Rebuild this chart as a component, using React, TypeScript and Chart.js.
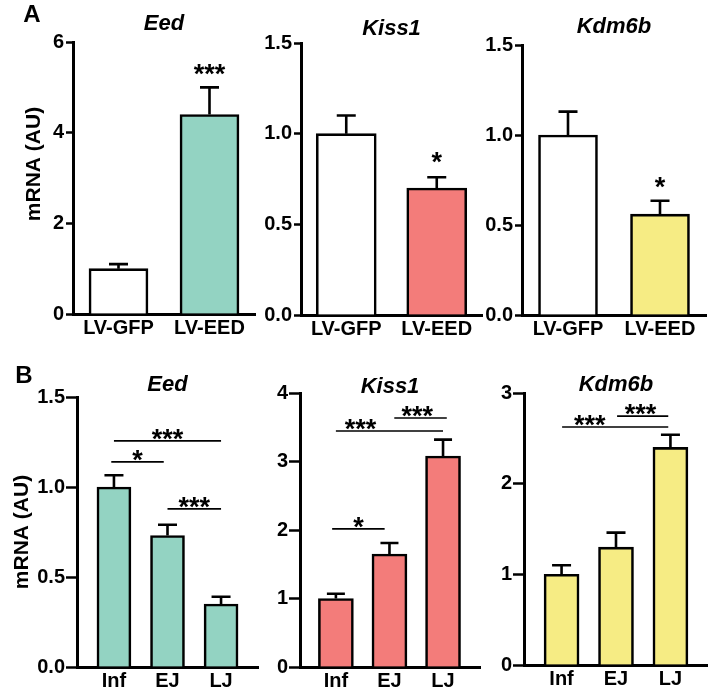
import React, { useEffect, useRef } from "react";
import { Chart, registerables } from "chart.js";

Chart.register(...registerables);

const FONT = "Arial, 'Liberation Sans', Helvetica, sans-serif";
const TEAL = "#93d3c2";
const SALMON = "#f37c7a";
const YELLOW = "#f6ec84";
const WHITE = "#ffffff";

// ---------------- Data ----------------
const groupsA = ["LV-GFP", "LV-EED"];
const groupsB = ["Inf", "EJ", "LJ"];

// Panel A (means and SEM)
const eedA = [1.0, 4.4];
const eedASem = [0.1, 0.6];
const kiss1A = [1.0, 0.7];
const kiss1ASem = [0.1, 0.06];
const kdm6bA = [1.0, 0.56];
const kdm6bASem = [0.13, 0.075];

// Panel B (means and SEM)
const eedB = [1.0, 0.73, 0.35];
const eedBSem = [0.065, 0.06, 0.04];
const kiss1B = [1.0, 1.65, 3.08];
const kiss1BSem = [0.07, 0.16, 0.24];
const kdm6bB = [1.0, 1.3, 2.4];
const kdm6bBSem = [0.1, 0.16, 0.14];

// Y tick values
const ticksEedA = [0, 2, 4, 6];
const ticksHalf = [0, 0.5, 1.0, 1.5];
const ticksKiss1B = [0, 1, 2, 3, 4];
const ticksKdm6bB = [0, 1, 2, 3];

// Significance stars above bars (bar index, value level, label)
const starsEedA = [{ at: 1, y: 5.45, text: "***" }];
const starsKiss1A = [{ at: 1, y: 0.88, text: "*" }];
const starsKdm6bA = [{ at: 1, y: 0.75, text: "*" }];

// Significance brackets (from / to in group positions, value level, label)
const bracketsEedB = [
  { from: 0, to: 2, y: 1.256, text: "***" },
  { from: -0.05, to: 0.93, y: 1.14, text: "*" },
  { from: 1, to: 2, y: 0.878, text: "***" },
];
const bracketsKiss1B = [
  { from: 1.09, to: 2.07, y: 3.635, text: "***", textAt: 1.52 },
  { from: 0, to: 2, y: 3.445, text: "***", textAt: 0.46 },
  { from: -0.07, to: 0.91, y: 2.015, text: "*" },
];
const bracketsKdm6bB = [
  { from: 1.02, to: 1.96, y: 2.746, text: "***", textAt: 1.45 },
  { from: 0.01, to: 1.96, y: 2.625, text: "***", textAt: 0.52 },
];

// ---------------- Layout ----------------
const W = 708;
const H = 696;
const STAR = 27;

type Panel = any;

const panels: Panel[] = [
  {
    key: "a1", title: "Eed", letter: "A", yLabel: true,
    labels: groupsA, values: eedA, sem: eedASem, colors: [WHITE, TEAL],
    ticks: ticksEedA, decimals: 0, stars: starsEedA, brackets: [],
    box: { left: 73, right: 255, top: 42, bottom: 314 }, xRange: [-0.5, 1.5],
    barWidth: 59, capWidth: 19, tickLen: 7, tickPad: 2, titleGap: 18.5,
    letterPos: { dx: -41, dy: -27 }, yLabelPos: { dx: -39, dy: -14 },
  },
  {
    key: "a2", title: "Kiss1", letter: null, yLabel: false,
    labels: groupsA, values: kiss1A, sem: kiss1ASem, colors: [WHITE, SALMON],
    ticks: ticksHalf, decimals: 1, stars: starsKiss1A, brackets: [],
    box: { left: 301, right: 482, top: 43, bottom: 315 }, xRange: [-0.5, 1.5],
    barWidth: 60, capWidth: 19, tickLen: 7, tickPad: 2, titleGap: 14.5,
  },
  {
    key: "a3", title: "Kdm6b", letter: null, yLabel: false,
    labels: groupsA, values: kdm6bA, sem: kdm6bASem, colors: [WHITE, YELLOW],
    ticks: ticksHalf, decimals: 1, stars: starsKdm6bA, brackets: [],
    box: { left: 522, right: 706, top: 45, bottom: 315 }, xRange: [-0.5, 1.5],
    barWidth: 59, capWidth: 19, tickLen: 7, tickPad: 2, titleGap: 18.5,
  },
  {
    key: "b1", title: "Eed", letter: "B", yLabel: true,
    labels: groupsB, values: eedB, sem: eedBSem, colors: [TEAL, TEAL, TEAL],
    ticks: ticksHalf, decimals: 1, stars: [], brackets: bracketsEedB,
    box: { left: 77, right: 258, top: 397, bottom: 667 }, xRange: [-0.69, 2.69],
    barWidth: 34, capWidth: 19, tickLen: 11, tickPad: 1, titleGap: 12,
    letterPos: { dx: -53, dy: -21 }, yLabelPos: { dx: -55, dy: 0 },
  },
  {
    key: "b2", title: "Kiss1", letter: null, yLabel: false,
    labels: groupsB, values: kiss1B, sem: kiss1BSem, colors: [SALMON, SALMON, SALMON],
    ticks: ticksKiss1B, decimals: 0, stars: [], brackets: bracketsKiss1B,
    box: { left: 300, right: 480, top: 393, bottom: 667 }, xRange: [-0.67, 2.69],
    barWidth: 35, capWidth: 18, tickLen: 11, tickPad: 1, titleGap: 6.5,
  },
  {
    key: "b3", title: "Kdm6b", letter: null, yLabel: false,
    labels: groupsB, values: kdm6bB, sem: kdm6bBSem, colors: [YELLOW, YELLOW, YELLOW],
    ticks: ticksKdm6bB, decimals: 0, stars: [], brackets: bracketsKdm6bB,
    box: { left: 524, right: 708, top: 393, bottom: 665 }, xRange: [-0.69, 2.69],
    barWidth: 35, capWidth: 19, tickLen: 11, tickPad: 1, titleGap: 8,
  },
];

function makeOverlay(p: Panel) {
  return {
    id: "overlay_" + p.key,
    afterDraw(chart: any) {
      const { ctx, chartArea: a, scales } = chart;
      const x = scales.x;
      const y = scales.y;
      ctx.save();
      ctx.strokeStyle = "#000";
      ctx.fillStyle = "#000";
      ctx.lineCap = "butt";

      // error bars (upper whisker)
      ctx.lineWidth = 2.6;
      p.values.forEach((v: number, i: number) => {
        const cx = x.getPixelForValue(i);
        const y0 = y.getPixelForValue(v);
        const y1 = y.getPixelForValue(v + p.sem[i]);
        ctx.beginPath();
        ctx.moveTo(cx, y0);
        ctx.lineTo(cx, y1);
        ctx.moveTo(cx - p.capWidth / 2, y1);
        ctx.lineTo(cx + p.capWidth / 2, y1);
        ctx.stroke();
      });

      // brackets
      ctx.font = `bold ${STAR}px ${FONT}`;
      ctx.textAlign = "center";
      ctx.textBaseline = "alphabetic";
      ctx.lineWidth = 1.7;
      p.brackets.forEach((b: any) => {
        const yy = y.getPixelForValue(b.y);
        ctx.beginPath();
        ctx.moveTo(x.getPixelForValue(b.from), yy);
        ctx.lineTo(x.getPixelForValue(b.to), yy);
        ctx.stroke();
        const tx = x.getPixelForValue(b.textAt ?? (b.from + b.to) / 2);
        ctx.fillText(b.text, tx, yy - 9 + STAR * 0.585);
      });
      p.stars.forEach((s: any) => {
        ctx.fillText(s.text, x.getPixelForValue(s.at), y.getPixelForValue(s.y) + STAR * 0.585);
      });

      // gene title
      ctx.font = `italic bold 22px ${FONT}`;
      ctx.textBaseline = "middle";
      ctx.fillText(p.title, (a.left + a.right) / 2, a.top - p.titleGap);

      // panel letter
      if (p.letter) {
        ctx.font = `bold 24px ${FONT}`;
        ctx.fillText(p.letter, a.left + p.letterPos.dx, a.top + p.letterPos.dy);
      }

      // y axis label
      if (p.yLabel) {
        ctx.save();
        ctx.translate(a.left + p.yLabelPos.dx, (a.top + a.bottom) / 2 + p.yLabelPos.dy);
        ctx.rotate(-Math.PI / 2);
        ctx.font = `bold 21px ${FONT}`;
        ctx.textAlign = "center";
        ctx.textBaseline = "middle";
        ctx.fillText("mRNA (AU)", 0, 0);
        ctx.restore();
      }
      ctx.restore();
    },
  };
}

function makeConfig(p: Panel): any {
  const tickFont = { family: FONT, size: 20, weight: "bold" as const };
  return {
    type: "bar",
    data: {
      datasets: [
        {
          data: p.values.map((v: number, i: number) => ({ x: i, y: v })),
          backgroundColor: p.colors,
          borderColor: "#000",
          borderWidth: 2.6,
          borderSkipped: "start",
          barThickness: p.barWidth,
        },
      ],
    },
    options: {
      animation: false,
      responsive: false,
      devicePixelRatio: 1,
      events: [],
      layout: {
        padding: { left: 0, right: W - p.box.right, top: p.box.top, bottom: 0 },
      },
      plugins: {
        legend: { display: false },
        tooltip: { enabled: false },
        title: { display: false },
      },
      scales: {
        x: {
          type: "linear",
          min: p.xRange[0],
          max: p.xRange[1],
          offset: false,
          grid: { display: false, drawTicks: false },
          border: { display: true, color: "#000", width: 3 },
          ticks: {
            color: "#000",
            font: tickFont,
            padding: 2,
            autoSkip: false,
            maxRotation: 0,
            callback: (v: number) => p.labels[Math.round(v)] ?? "",
          },
          afterBuildTicks: (s: any) => {
            s.ticks = p.labels.map((_: string, i: number) => ({ value: i }));
          },
          afterFit: (s: any) => {
            s.height = H - p.box.bottom;
          },
        },
        y: {
          min: p.ticks[0],
          max: p.ticks[p.ticks.length - 1],
          grid: {
            drawOnChartArea: false,
            drawTicks: true,
            tickLength: p.tickLen,
            tickWidth: 2.5,
            tickColor: "#000",
            color: "#000",
          },
          border: { display: true, color: "#000", width: 3 },
          ticks: {
            color: "#000",
            font: tickFont,
            padding: p.tickPad,
            autoSkip: false,
            callback: (v: number) => Number(v).toFixed(p.decimals),
          },
          afterBuildTicks: (s: any) => {
            s.ticks = p.ticks.map((v: number) => ({ value: v }));
          },
          afterFit: (s: any) => {
            s.width = p.box.left;
          },
        },
      },
    },
    plugins: [makeOverlay(p)],
  };
}

function PanelChart({ p }: { p: Panel }) {
  const ref = useRef<HTMLCanvasElement>(null);
  useEffect(() => {
    if (!ref.current) return;
    const chart = new Chart(ref.current, makeConfig(p));
    return () => chart.destroy();
  }, [p]);
  return (
    <canvas
      ref={ref}
      width={W}
      height={H}
      style={{ position: "absolute", left: 0, top: 0, width: W, height: H }}
    />
  );
}

export default function App() {
  return (
    <div
      style={{
        position: "absolute",
        left: 0,
        top: 0,
        width: W,
        height: H,
        background: "#fff",
        overflow: "hidden",
      }}
    >
      {panels.map((p) => (
        <PanelChart key={p.key} p={p} />
      ))}
    </div>
  );
}
